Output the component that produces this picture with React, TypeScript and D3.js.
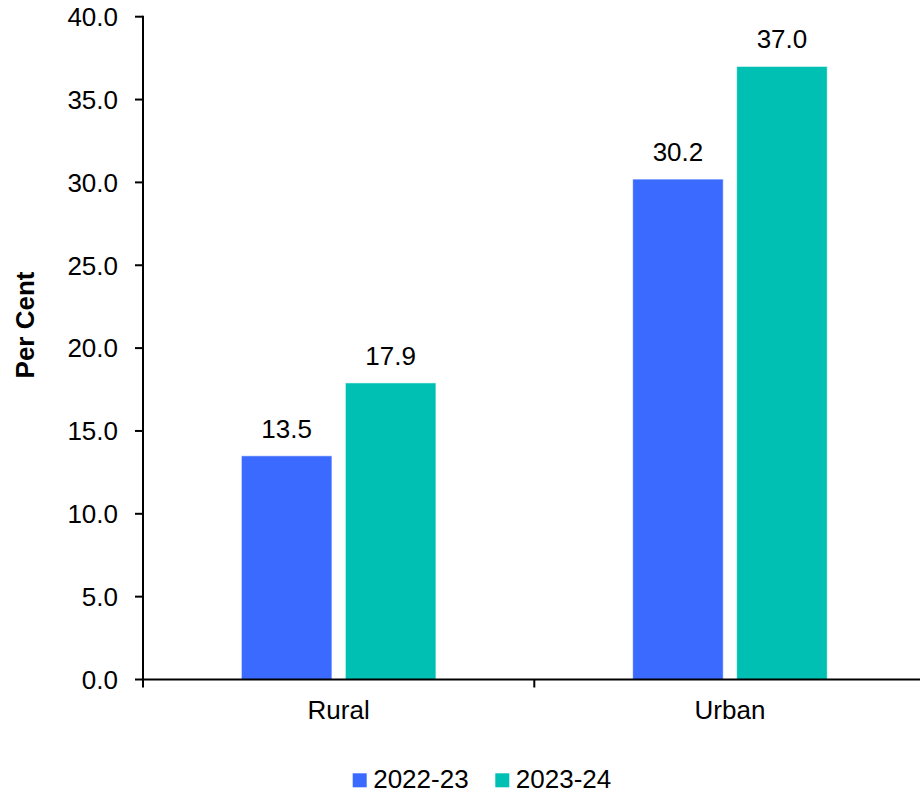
import React from "react";
import * as d3 from "d3";

const categories = ["Rural", "Urban"];
const seriesNames = ["2022-23", "2023-24"];
const values2022 = [13.5, 30.2];
const values2023 = [17.9, 37.0];
const yTicks = [0, 5, 10, 15, 20, 25, 30, 35, 40];
const colors = ["#3A6AFF", "#00BFB3"];

const W = 920;
const H = 793;
const FONT = "Arial, 'Liberation Sans', sans-serif";

export default function App() {
  const y = d3.scaleLinear().domain([0, 40]).range([679.5, 16.7]);
  const x0 = d3.scaleBand<string>().domain(categories).range([143, 925.6]).paddingInner(0).paddingOuter(0);
  const groupW = 194.6;
  const x1 = d3.scaleBand<string>().domain(seriesNames).range([0, groupW]).paddingInner(0.129).paddingOuter(0);
  const seriesValues = [values2022, values2023];
  const fmt = d3.format(".1f");
  const xAxisY = y(0);

  return (
    <svg
      width={W}
      height={H}
      style={{ position: "absolute", left: 0, top: 0, background: "#fff" }}
      fontFamily={FONT}
    >
      <rect x={0} y={0} width={W} height={H} fill="#fff" />
      {categories.map((c, ci) => {
        const gx = (x0(c) as number) + (x0.bandwidth() - groupW) / 2;
        return (
          <g key={c}>
            {seriesNames.map((s, si) => {
              const v = seriesValues[si][ci];
              const bx = gx + (x1(s) as number);
              const by = y(v);
              return (
                <g key={s}>
                  <rect
                    x={bx}
                    y={by}
                    width={x1.bandwidth()}
                    height={xAxisY - by}
                    fill={colors[si]}
                    stroke="#ffffff"
                    strokeOpacity={0.6}
                    strokeWidth={1}
                  />
                  <text
                    x={bx + x1.bandwidth() / 2}
                    y={by - 18}
                    textAnchor="middle"
                    fontSize={26}
                    fill="#000"
                  >
                    {fmt(v)}
                  </text>
                </g>
              );
            })}
          </g>
        );
      })}
      <line x1={143} x2={143} y1={y(40) - 1} y2={xAxisY} stroke="#000" strokeWidth={2} />
      {yTicks.map((t) => (
        <g key={t}>
          <line x1={135} x2={143} y1={y(t)} y2={y(t)} stroke="#000" strokeWidth={2} />
          <text x={118} y={y(t)} dy="0.36em" textAnchor="end" fontSize={26} fill="#000">
            {fmt(t)}
          </text>
        </g>
      ))}
      <line x1={142} x2={W} y1={xAxisY} y2={xAxisY} stroke="#000" strokeWidth={2} />
      {[...categories.map((c) => x0(c) as number), (x0(categories[1]) as number) + x0.bandwidth()].map((tx, i) => (
        <line key={i} x1={tx} x2={tx} y1={xAxisY} y2={xAxisY + 8} stroke="#000" strokeWidth={2} />
      ))}
      {categories.map((c) => (
        <text
          key={c}
          x={(x0(c) as number) + x0.bandwidth() / 2}
          y={719}
          textAnchor="middle"
          fontSize={26}
          fill="#000"
        >
          {c}
        </text>
      ))}
      <text
        transform={`translate(34, 325) rotate(-90)`}
        textAnchor="middle"
        fontSize={26}
        fontWeight="bold"
        fill="#000"
      >
        Per Cent
      </text>
      {seriesNames.map((s, i) => {
        const lx = [352.7, 495.3][i];
        return (
          <g key={s}>
            <rect x={lx} y={773.3} width={14} height={14} fill={colors[i]} />
            <text x={lx + 20.5} y={787.5} fontSize={26} fill="#000">
              {s}
            </text>
          </g>
        );
      })}
    </svg>
  );
}
